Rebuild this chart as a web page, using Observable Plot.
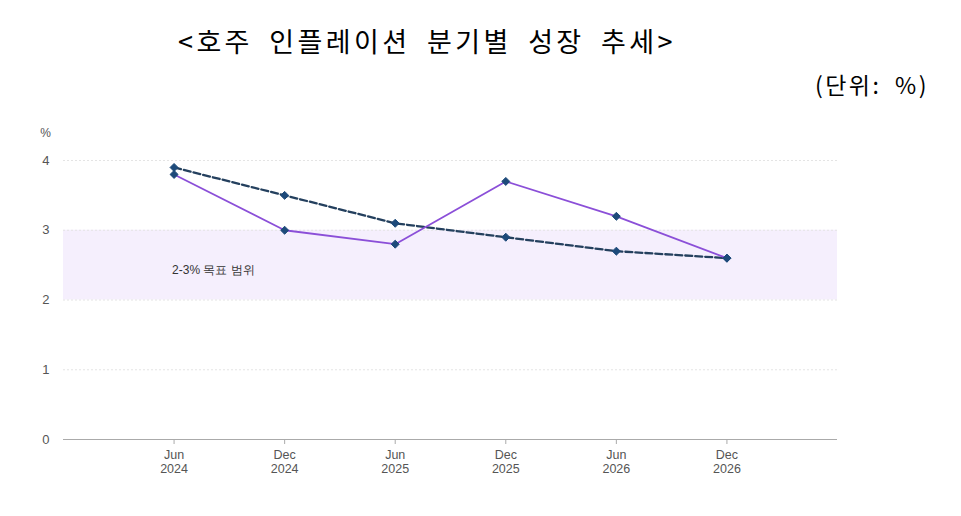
<!DOCTYPE html>
<html>
<head>
<meta charset="utf-8">
<script src="https://cdn.jsdelivr.net/npm/d3@7"></script>
<script src="https://cdn.jsdelivr.net/npm/@observablehq/plot@0.6"></script>
<style>
  body { margin: 0; background: #fff; width: 961px; height: 516px; overflow: hidden; }
  #head { position: relative; height: 115px; }
  #title { position: absolute; left: 178px; top: 21px; font-family: "Noto Sans CJK KR", sans-serif; font-size: 27px; color: #000; letter-spacing: 3.4px; word-spacing: 7px; white-space: nowrap; }
  #unit { position: absolute; right: 32px; top: 67px; font-family: "Noto Sans CJK KR", sans-serif; font-size: 23px; color: #000; letter-spacing: 2.5px; word-spacing: 6px; white-space: nowrap; }
</style>
</head>
<body>
<div id="head">
  <div id="title">&lt;호주 인플레이션 분기별 성장 추세&gt;</div>
  <div id="unit">(단위: %)</div>
</div>
<div id="chart"></div>
<script>
const periods = ["Jun\n2024", "Dec\n2024", "Jun\n2025", "Dec\n2025", "Jun\n2026", "Dec\n2026"];
const seriesA = [3.8, 3.0, 2.8, 3.7, 3.2, 2.6];   // solid purple
const seriesB = [3.9, 3.5, 3.1, 2.9, 2.7, 2.6];   // dashed navy
const yTicks = [0, 1, 2, 3, 4];
const band = [{lo: 2, hi: 3, label: "2-3% 목표 범위"}];

const dataA = periods.map((p, i) => ({i, v: seriesA[i]}));
const dataB = periods.map((p, i) => ({i, v: seriesB[i]}));

const chart = Plot.plot({
  width: 961,
  height: 401,
  marginLeft: 63,
  marginRight: 124,
  marginTop: 45,
  marginBottom: 77,
  style: {fontFamily: "Arial, 'Liberation Sans', sans-serif", fontSize: "12px", color: "#555"},
  x: {domain: [-1, 6]},
  y: {domain: [0, 4]},
  marks: [
    Plot.rect(band, {x1: -1, x2: 6, y1: "lo", y2: "hi", fill: "#f5effd"}),
    Plot.ruleY([1, 2, 3, 4], {stroke: "#e4e4e4", strokeDasharray: "2,2"}),
    Plot.ruleY([0], {stroke: "#aaa", strokeWidth: 1.2}),
    Plot.axisY({ticks: yTicks, tickFormat: "d", tickSize: 0, tickPadding: 14, fontSize: 13, label: null, color: "#555"}),
    Plot.axisX({ticks: d3.range(periods.length), tickFormat: i => periods[i], tickSize: 5, tickPadding: 4, label: null, stroke: "#aaa", color: "#555", fontSize: 12.5, lineHeight: 1.15}),
    Plot.text(["%"], {x: -1, y: 4, dx: -18, dy: -27, fill: "#555", fontSize: 12}),
    Plot.text(band, {x: 0, y: 2.43, text: "label", textAnchor: "start", dx: -2, fill: "#333", fontSize: 12}),
    Plot.line(dataB, {x: "i", y: "v", stroke: "#24405e", strokeWidth: 2.3, strokeDasharray: "7,3"}),
    Plot.line(dataA, {x: "i", y: "v", stroke: "#8b4fd8", strokeWidth: 1.8}),
    Plot.dot(dataB, {x: "i", y: "v", symbol: "diamond2", r: 3.6, fill: "#1d4a7a", stroke: "#1d4a7a", strokeWidth: 1}),
    Plot.dot(dataA, {x: "i", y: "v", symbol: "diamond2", r: 3.6, fill: "#1d4a7a", stroke: "#1d4a7a", strokeWidth: 1})
  ]
});
document.getElementById("chart").appendChild(chart);
</script>
</body>
</html>
